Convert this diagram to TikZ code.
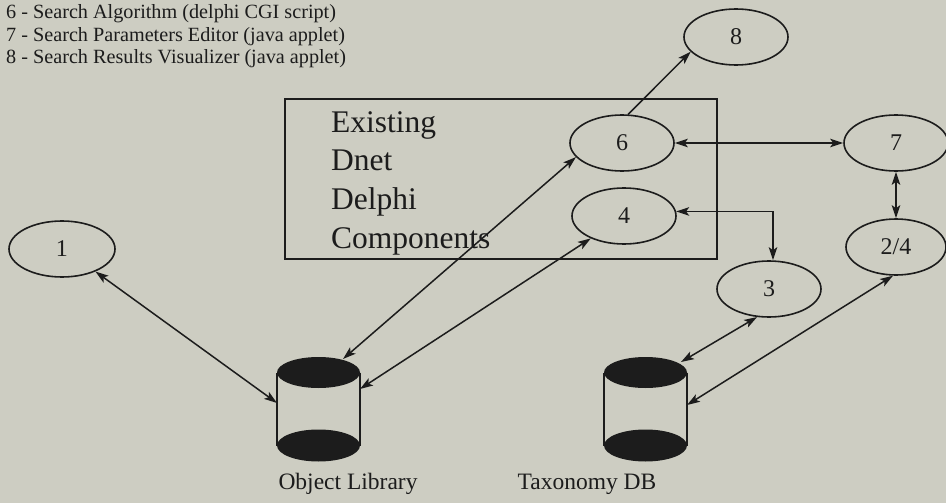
\documentclass[tikz,border=0pt]{standalone}
\usepackage{fontspec}
\setmainfont{Liberation Serif}
\usetikzlibrary{arrows.meta,shapes.geometric}
\definecolor{bg}{RGB}{205,205,194}
\definecolor{ink}{RGB}{28,28,28}
\tikzset{
  oval/.style={ellipse, draw=ink, line width=1.6pt, minimum width=104pt, minimum height=56pt, inner sep=0pt, text=ink, font=\fontsize{24}{26}\selectfont},
  tip/.tip={Stealth[length=13pt,width=8.5pt,inset=3pt]},
  conn/.style={draw=ink, line width=1.5pt, tip-tip},
  oneway/.style={draw=ink, line width=1.5pt, -tip},
  legend/.style={anchor=base west, inner sep=0pt, text=ink, font=\fontsize{20.2}{22}\selectfont},
  boxtext/.style={anchor=base west, inner sep=0pt, text=ink, font=\fontsize{31.5}{33}\selectfont},
  dblabel/.style={anchor=base, inner sep=0pt, text=ink, font=\fontsize{23.5}{25}\selectfont},
  disk/.style={fill=ink},
}
\begin{document}
\begin{tikzpicture}[x=1pt,y=-1pt]
\fill[bg] (0,0) rectangle (946,503);
\useasboundingbox (0,0) rectangle (946,503);

% legend
\node[legend] (l6) at (6,19) {6 - Search Algorithm (delphi CGI script)};
\node[legend] (l7) at (6,41.5) {7 - Search Parameters Editor (java applet)};
\node[legend] (l8) at (6,64) {8 - Search Results Visualizer (java applet)};

% box
\draw[ink, line width=1.6pt] (285,99) rectangle (717,259);
\node[boxtext] (t1) at (331,132.5) {Existing};
\node[boxtext] (t2) at (331,170.5) {Dnet};
\node[boxtext] (t3) at (331,209.5) {Delphi};
\node[boxtext] (t4) at (331,248) {Components};

% ellipses
\node[oval] (eight) at (736,37) {8};
\node[oval] (six) at (622,143) {6};
\node[oval] (four) at (624,216) {4};
\node[oval] (seven) at (896,143) {7};
\node[oval, minimum width=100pt] (two4) at (896,247) {2/4};
\node[oval] (three) at (769,289) {3};
\node[oval, minimum width=106pt] (one) at (62,249) {1};

% cylinders
\foreach \cx/\nm in {318.5/olib, 645.5/tax}{
  \fill[disk] (\cx,445.5) ellipse [x radius=41.5pt, y radius=16pt];
  \draw[ink, line width=1.4pt] (\cx-41.5,372.5) -- (\cx-41.5,445.5) (\cx+41.5,372.5) -- (\cx+41.5,445.5);
  \fill[disk] (\cx,372.5) ellipse [x radius=41.5pt, y radius=15.5pt];
}
\coordinate (olib-top) at (343,359);
\coordinate (olib-left) at (277,403);
\coordinate (olib-right) at (360,389);
\coordinate (tax-top) at (681,362);
\coordinate (tax-right) at (687,405);

\node[dblabel] (olibl) at (348,489) {Object Library};
\node[dblabel] (taxl) at (587,489) {Taxonomy DB};

% connectors
\draw[oneway] (six.78) -- (eight.198);
\draw[conn] (six.east) -- (seven.west);
\draw[conn] (seven.south) -- (two4.north);
\draw[conn] (four.5) -| ([xshift=4pt]three.north);
\draw[conn] (olib-top) -- (six.197);
\draw[conn] (olib-right) -- (four.214);
\draw[conn] (one.326) -- (olib-left);
\draw[conn] (tax-top) -- (three.247);
\draw[conn] (tax-right) -- (two4.264);
\end{tikzpicture}
\end{document}
